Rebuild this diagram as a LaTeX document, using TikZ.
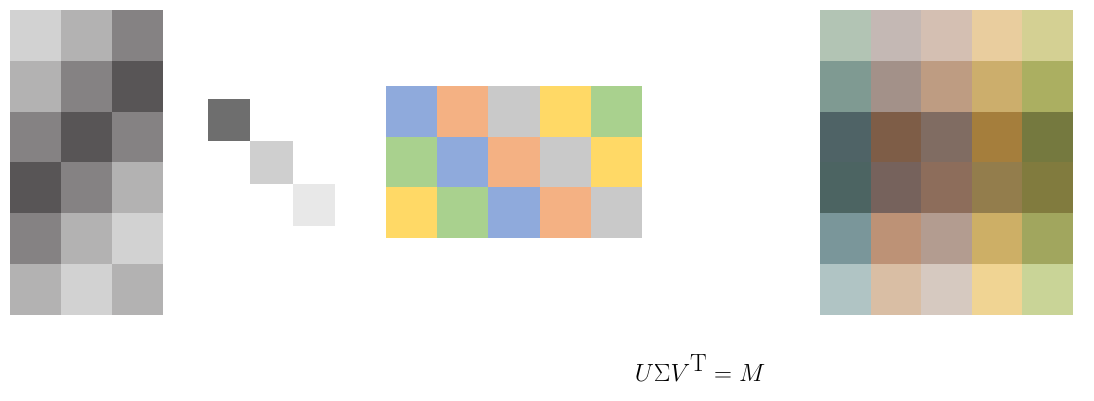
\documentclass[tikz,border=0pt]{standalone}
\usepackage{amsmath,amssymb}
\usetikzlibrary{positioning}

% grey levels of U and Sigma
\definecolor{gA}{HTML}{D2D2D2}
\definecolor{gB}{HTML}{B3B2B2}
\definecolor{gC}{HTML}{858283}
\definecolor{gD}{HTML}{585556}
\definecolor{sA}{HTML}{6E6E6E}
\definecolor{sB}{HTML}{CFCFCF}
\definecolor{sC}{HTML}{E8E8E8}
% colours of V^T
\definecolor{vb}{HTML}{8FAADC}
\definecolor{vo}{HTML}{F4B183}
\definecolor{vg}{HTML}{C9C9C9}
\definecolor{vy}{HTML}{FFD966}
\definecolor{vn}{HTML}{A9D18E}
% colours of M
\definecolor{m11}{HTML}{B2C4B4}\definecolor{m12}{HTML}{C4B8B4}\definecolor{m13}{HTML}{D4BFB2}\definecolor{m14}{HTML}{E9CD9E}\definecolor{m15}{HTML}{D4D093}
\definecolor{m21}{HTML}{7F9A92}\definecolor{m22}{HTML}{A39189}\definecolor{m23}{HTML}{BE9C82}\definecolor{m24}{HTML}{CCAE6C}\definecolor{m25}{HTML}{ABAF61}
\definecolor{m31}{HTML}{4F6366}\definecolor{m32}{HTML}{7E5D47}\definecolor{m33}{HTML}{806C62}\definecolor{m34}{HTML}{A57E3C}\definecolor{m35}{HTML}{75793F}
\definecolor{m41}{HTML}{4C6462}\definecolor{m42}{HTML}{76625C}\definecolor{m43}{HTML}{8D6D5B}\definecolor{m44}{HTML}{937D4C}\definecolor{m45}{HTML}{817B3E}
\definecolor{m51}{HTML}{7A969A}\definecolor{m52}{HTML}{BD9276}\definecolor{m53}{HTML}{B39C90}\definecolor{m54}{HTML}{CDAF66}\definecolor{m55}{HTML}{A1A65E}
\definecolor{m61}{HTML}{B0C4C4}\definecolor{m62}{HTML}{D9BEA4}\definecolor{m63}{HTML}{D6C9C0}\definecolor{m64}{HTML}{F0D493}\definecolor{m65}{HTML}{C9D497}

\begin{document}
\begin{tikzpicture}[x=1pt, y=-1pt,
  formula/.style={inner sep=0pt, font=\fontsize{33}{40}\selectfont}]
  \useasboundingbox (0,0) rectangle (1094,400);

  % U
  \foreach \row [count=\r from 0] in {{gA,gB,gC},{gB,gC,gD},{gC,gD,gC},{gD,gC,gB},{gC,gB,gA},{gB,gA,gB}}
    \foreach \c [count=\k from 0] in \row
      \fill[\c] (10+51*\k, 10+50.8*\r) rectangle ++(51.3,51.1);

  % Sigma
  \foreach \c [count=\k from 0] in {sA,sB,sC}
    \fill[\c] (207.5+42.6*\k, 98.5+42.6*\k) rectangle ++(42.6,42.6);

  % V^T
  \foreach \row [count=\r from 0] in {{vb,vo,vg,vy,vn},{vn,vb,vo,vg,vy},{vy,vn,vb,vo,vg}}
    \foreach \c [count=\k from 0] in \row
      \fill[\c] (386+51.2*\k, 86+50.7*\r) rectangle ++(51.5,51);

  % M
  \foreach \r in {1,...,6}
    \foreach \k in {1,...,5}
      \fill[m\r\k] (820+50.6*\k-50.6, 10+50.8*\r-50.8) rectangle ++(50.9,51.1);

  \node[formula] (eq) at (700,368) {$U\Sigma V^{\mathrm{T}} = M$};
\end{tikzpicture}
\end{document}
